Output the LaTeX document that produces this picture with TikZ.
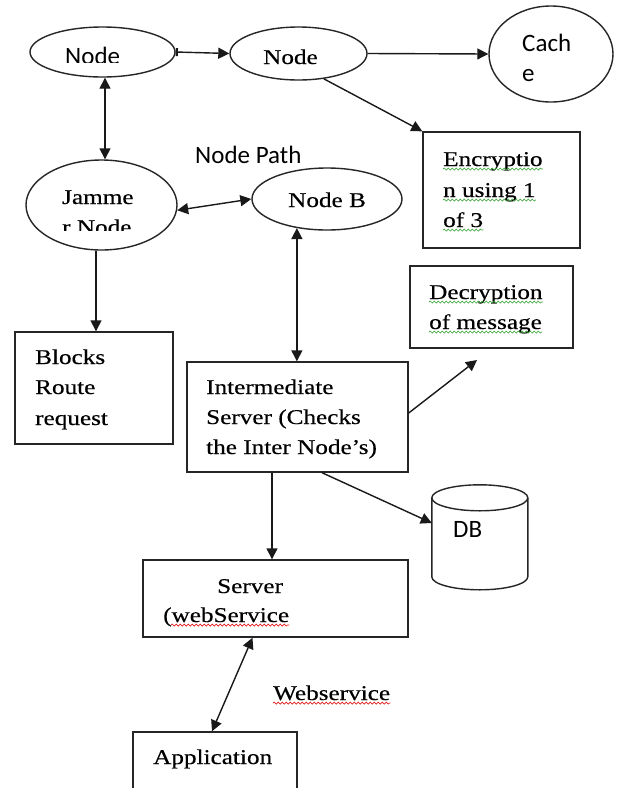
\documentclass[tikz,border=0pt]{standalone}
\usepackage{fontspec}
\usetikzlibrary{arrows.meta,shapes.geometric,decorations.pathmorphing,calc}
\newfontfamily\camfont[FakeStretch=1.2,FakeBold=0.4]{Liberation Serif}
\newfontfamily\calfont{Carlito}
\definecolor{squiggreen}{RGB}{60,170,60}
\definecolor{squigred}{RGB}{230,30,30}
\tikzset{
  shapeline/.style={draw=black!85, line width=1.4pt},
  ell/.style={shapeline, ellipse, inner sep=0pt},
  box/.style={shapeline, rectangle, inner sep=0pt},
  serif/.style={font=\camfont\fontsize{21}{30}\selectfont, anchor=base west, inner sep=0pt, text=black},
  sans/.style={font=\calfont\fontsize{25}{30}\selectfont, anchor=base west, inner sep=0pt, text=black},
  conn/.style={draw=black!90, line width=1.4pt, -{Triangle[length=11pt,width=11pt]}},
  biconn/.style={draw=black!90, line width=1.4pt, {Triangle[length=11pt,width=11pt]}-{Triangle[length=11pt,width=11pt]}},
  squig/.style={line width=0.7pt, decorate, decoration={snake, segment length=4pt, amplitude=1pt}},
}
\begin{document}
\begin{tikzpicture}[x=1pt,y=-1pt]
\clip (0,0) rectangle (621,788);
\fill[white] (0,0) rectangle (621,788);

% shapes
\node[ell, minimum width=145pt, minimum height=50pt] (e1) at (102.5,52) {};
\node[ell, minimum width=137pt, minimum height=53pt] (e2) at (298.5,53.5) {};
\node[ell, minimum width=124pt, minimum height=96pt] (cache) at (551,54) {};
\node[box, minimum width=157pt, minimum height=116pt] (enc) at (501.5,190) {};
\node[ell, minimum width=151pt, minimum height=90pt] (jam) at (101.5,205) {};
\node[ell, minimum width=150pt, minimum height=62pt] (nb) at (327,199) {};
\node[box, minimum width=158pt, minimum height=112pt] (blocks) at (94,388) {};
\node[box, minimum width=221pt, minimum height=110pt] (inter) at (297.5,417) {};
\node[box, minimum width=163pt, minimum height=82pt] (dec) at (491.5,307) {};
\node[box, minimum width=265pt, minimum height=77pt] (server) at (275.5,598.5) {};
\node[box, minimum width=164pt, minimum height=70pt] (app) at (215,767) {};
\node[inner sep=0pt, minimum width=96pt, minimum height=105pt] (db) at (480,537.5) {};
% cylinder
\draw[shapeline, fill=white] (db.north west) ++(0,13)
  arc[start angle=180, end angle=0, x radius=48, y radius=-13]
  -- ++(0,79) arc[start angle=0, end angle=-180, x radius=48, y radius=-13] -- cycle;
\draw[shapeline] (db.north west) ++(0,13) arc[start angle=180, end angle=360, x radius=48, y radius=-13];

% texts
\begin{scope}
  \clip (0,0) rectangle (621,62);
  \node[sans] (t1) at (65,64) {Node};
\end{scope}
\node[serif] (t2) at (263,64) {Node};
\node[sans] (t3) at (522,51) {Cach};
\node[sans] (t4) at (522,81) {e};
\node[sans] (tpath) at (195,163) {Node Path};
\node[serif] (tj1) at (62,204) {Jamme};
\begin{scope}
  \clip (0,0) rectangle (621,230);
  \node[serif] (tj2) at (62,234) {r Node};
\end{scope}
\node[serif] (tnb) at (288,207) {Node B};
\node[serif] (te1) at (443,166) {Encryptio};
\node[serif] (te2) at (443,197) {n using 1};
\node[serif] (te3) at (443,227) {of 3};
\node[serif] (td1) at (429,299) {Decryption};
\node[serif] (td2) at (429,329) {of message};
\node[serif] (tb1) at (35,364) {Blocks};
\node[serif] (tb2) at (35,394) {Route};
\node[serif] (tb3) at (35,425) {request};
\node[serif] (ti1) at (206,394) {Intermediate};
\node[serif] (ti2) at (206,424) {Server (Checks};
\node[serif] (ti3) at (206,454) {the Inter Node’s)};
\node[sans] (tdb) at (453,537) {DB};
\node[serif] (ts1) at (217,593) {Server};
\node[serif] (ts2) at (163,622) {(webService};
\node[serif] (tws) at (273,700) {Webservice};
\node[serif] (tapp) at (153,764) {Application};

% squiggles
\foreach \t in {te1,te2,te3,td1,td2}
  \draw[squig, squiggreen] ([yshift=-3pt]\t.base west) -- ([yshift=-3pt]\t.base east);
\draw[squig, squigred] ([xshift=8pt,yshift=-3pt]ts2.base west) -- ([yshift=-3pt]ts2.base east);
\draw[squig, squigred] ([yshift=-3pt]tws.base west) -- ([yshift=-3pt]tws.base east);

% connectors
\draw[draw=black!90, line width=1.4pt, {Bar[width=8pt,line width=2.2pt]}-{Triangle[length=11pt,width=11pt]}] (e1.east) -- (e2.west);
\draw[conn] (e2.east) -- (cache.west);
\draw[conn] (e2.-45) -- (enc.north west);
\draw[biconn] ([xshift=2.5pt]e1.south) -- ([xshift=3.5pt]jam.north);
\draw[biconn] (jam.-4) -- (nb.west);
\draw[conn] ([xshift=-5.5pt]jam.south) -- ([xshift=2pt]blocks.north);
\draw[biconn] (nb.224.6) -- (nb.224.6 |- inter.north);
\coordinate (decend) at (477,360);
\draw[conn] ([yshift=4pt]inter.east) -- (decend);
\draw[conn] ([xshift=-25.5pt]inter.south) -- ([xshift=-25.5pt]inter.south |- server.north);
\draw[conn] ([xshift=24.5pt]inter.south) -- ([yshift=14.5pt]db.west);
\draw[biconn] ([xshift=-23pt]server.south) -- ([xshift=-3pt]app.north);
\end{tikzpicture}
\end{document}
